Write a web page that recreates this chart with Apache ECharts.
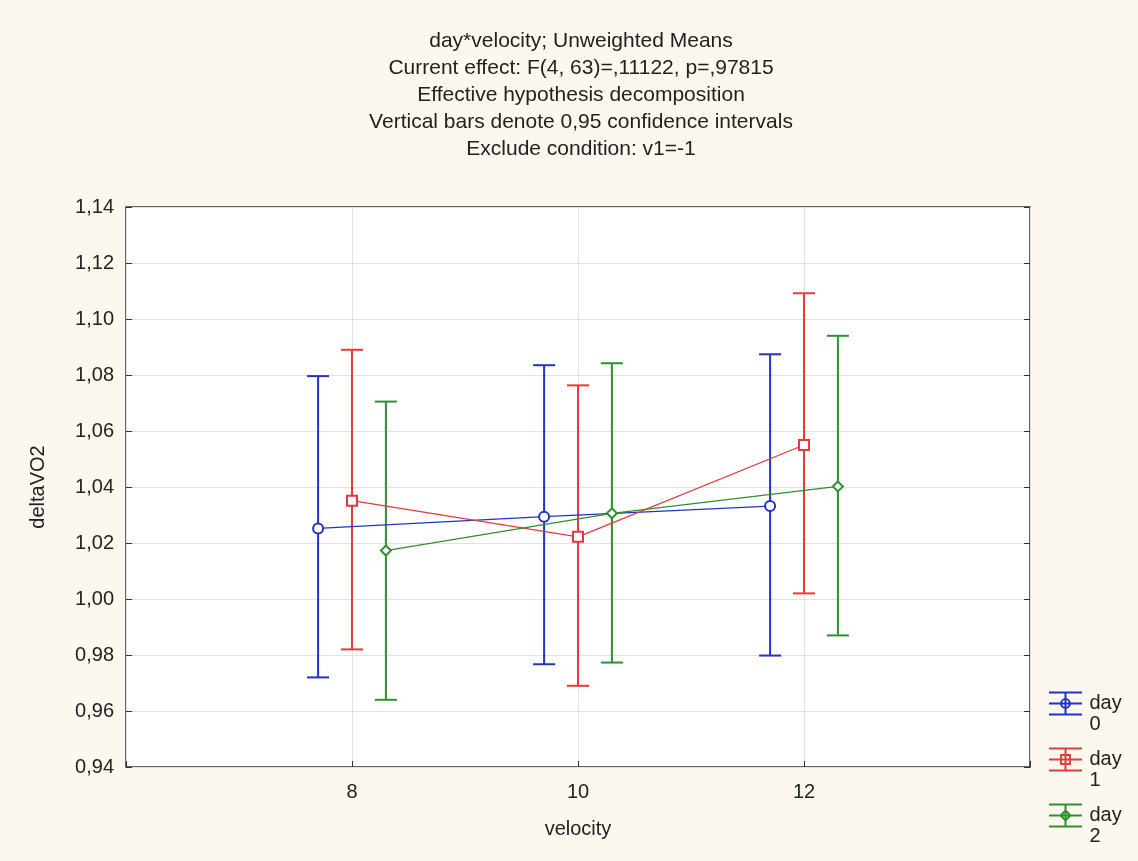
<!DOCTYPE html>
<html>
<head>
<meta charset="utf-8">
<script src="https://cdn.jsdelivr.net/npm/echarts@6/dist/echarts.min.js"></script>
<style>html,body{margin:0;padding:0;background:#fdf8ef;}#c{width:1138px;height:861px;}</style>
</head>
<body>
<div id="c"></div>
<script>
const velocities = [8, 10, 12];
const dayNames = ['day 0', 'day 1', 'day 2'];
const means = [
  [1.0252, 1.0294, 1.0332],
  [1.0351, 1.0222, 1.0550],
  [1.0173, 1.0306, 1.0402]
];
const lower = [
  [0.9720, 0.9767, 0.9798],
  [0.9820, 0.9690, 1.0020],
  [0.9640, 0.9773, 0.9870]
];
const upper = [
  [1.0796, 1.0835, 1.0874],
  [1.0890, 1.0763, 1.1092],
  [1.0705, 1.0842, 1.0940]
];
const titleLines = [
  'day*velocity; Unweighted Means',
  'Current effect: F(4, 63)=,11122, p=,97815',
  'Effective hypothesis decomposition',
  'Vertical bars denote 0,95 confidence intervals',
  'Exclude condition: v1=-1'
];

const colors = ['#2233c4', '#e23b3b', '#2f8f2f'];
const symbols = ['emptyCircle', 'emptyRect', 'emptyDiamond'];
const offsets = [-0.3, 0, 0.3];
const FONT = 'Liberation Sans, Arial, sans-serif';
const markerPaths = [
  'M19,11 A4,4 0 1 1 11,11 A4,4 0 1 1 19,11 Z',
  'M11,7 H19 V15 H11 Z',
  'M15,6.5 L19.5,11 L15,15.5 L10.5,11 Z'
];
const legendIcon = d => 'path://M0,1 H30 M0,21 H30 M15,1 V21 M0,11 H30 ' + markerPaths[d];

const chart = echarts.init(document.getElementById('c'));
const series = [];
dayNames.forEach((name, d) => {
  series.push({
    name: name,
    type: 'line',
    data: velocities.map((v, i) => [v + offsets[d], means[d][i]]),
    symbol: symbols[d],
    symbolSize: 10,
    color: colors[d],
    lineStyle: { width: 1.3, color: colors[d] },
    itemStyle: { color: colors[d], borderWidth: 1.8 },
    z: 3
  });
  series.push({
    name: name,
    type: 'custom',
    data: velocities.map((v, i) => [v + offsets[d], lower[d][i], upper[d][i]]),
    encode: { x: 0, y: [1, 2] },
    renderItem: function (params, api) {
      const x = api.value(0);
      const lo = api.coord([x, api.value(1)]);
      const hi = api.coord([x, api.value(2)]);
      const hw = 11;
      const st = { stroke: colors[d], lineWidth: 2, fill: null };
      return {
        type: 'group',
        children: [
          { type: 'line', shape: { x1: lo[0], y1: lo[1], x2: hi[0], y2: hi[1] }, style: st },
          { type: 'line', shape: { x1: lo[0] - hw, y1: lo[1], x2: lo[0] + hw, y2: lo[1] }, style: st },
          { type: 'line', shape: { x1: hi[0] - hw, y1: hi[1], x2: hi[0] + hw, y2: hi[1] }, style: st }
        ]
      };
    },
    z: 2
  });
});

chart.setOption({
  backgroundColor: '#fdf8ef',
  animation: false,
  textStyle: { fontFamily: FONT },
  title: {
    text: titleLines.join('\n'),
    left: 576,
    top: 23,
    textAlign: 'center',
    textStyle: { fontFamily: FONT, fontSize: 21, fontWeight: 'normal', color: '#222', lineHeight: 27 }
  },
  grid: {
    left: 126, right: 108, top: 207, bottom: 94,
    show: true, backgroundColor: '#ffffff', borderColor: '#333', borderWidth: 1.5
  },
  legend: {
    orient: 'vertical',
    left: 1048,
    top: 672,
    height: 400,
    padding: 0,
    itemGap: -7,
    itemWidth: 38,
    itemHeight: 22,
    data: dayNames.map((n, d) => ({
      name: n,
      icon: legendIcon(d),
      itemStyle: { color: 'transparent', borderColor: colors[d], borderWidth: 2 }
    })),
    formatter: n => ' \n' + n.replace(' ', '\n'),
    textStyle: { fontFamily: FONT, fontSize: 20, color: '#222', lineHeight: 21 }
  },
  xAxis: {
    type: 'value', min: 6, max: 14, interval: 2,
    name: 'velocity', nameLocation: 'middle', nameGap: 52,
    nameTextStyle: { fontFamily: FONT, fontSize: 20, color: '#222' },
    axisLine: { show: false },
    axisTick: { show: true, inside: true, length: 6, lineStyle: { color: '#333' } },
    axisLabel: {
      fontFamily: FONT, fontSize: 20, color: '#222', margin: 15,
      formatter: v => (v === 6 || v === 14) ? '' : String(v)
    },
    splitLine: { show: true, lineStyle: { color: '#e2e2e2', width: 1 } }
  },
  yAxis: [{
    type: 'value', min: 0.94, max: 1.14, interval: 0.02,
    name: 'deltaVO2', nameLocation: 'middle', nameGap: 78, nameRotate: 90,
    nameTextStyle: { fontFamily: FONT, fontSize: 20, color: '#222' },
    axisLine: { show: false },
    axisTick: { show: true, inside: true, length: 6, lineStyle: { color: '#333' } },
    axisLabel: {
      fontFamily: FONT, fontSize: 20, color: '#222', margin: 12,
      formatter: v => v.toFixed(2).replace('.', ',')
    },
    splitLine: { show: true, lineStyle: { color: '#e2e2e2', width: 1 } }
  }, {
    type: 'value', min: 0.94, max: 1.14, interval: 0.02, position: 'right',
    axisLine: { show: false },
    axisTick: { show: true, inside: true, length: 6, lineStyle: { color: '#333' } },
    axisLabel: { show: false },
    splitLine: { show: false }
  }],
  series: series
});
</script>
</body>
</html>
